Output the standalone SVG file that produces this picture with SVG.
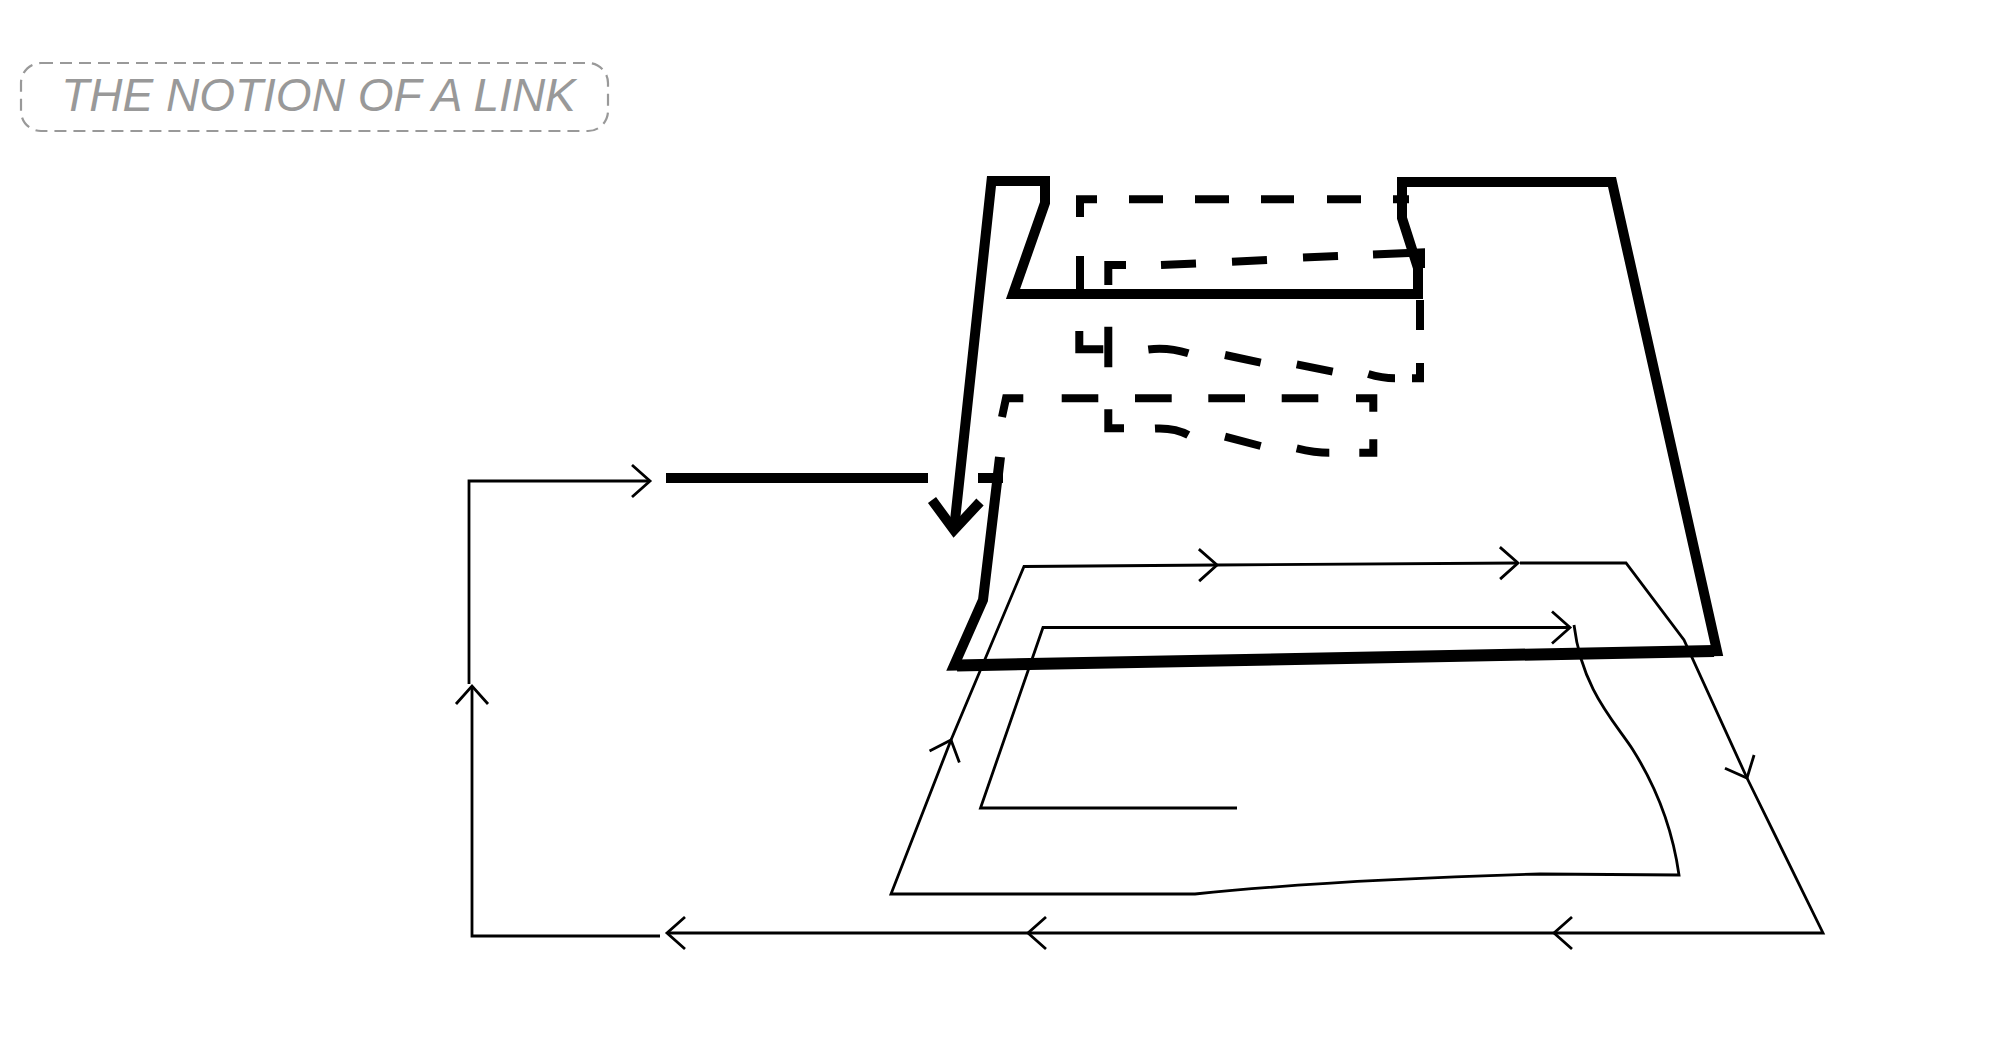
<svg xmlns="http://www.w3.org/2000/svg" width="2000" height="1039" viewBox="0 0 2000 1039">
<defs>
<style>
.thick{fill:none;stroke:#000;stroke-width:10;stroke-linejoin:miter;stroke-miterlimit:10;stroke-linecap:butt}
.dash{fill:none;stroke:#000;stroke-width:8;stroke-linejoin:miter;stroke-linecap:butt}
.thin{fill:none;stroke:#000;stroke-width:2.8;stroke-linejoin:miter}
.arr{marker-end:url(#chev)}
.title-box{fill:none;stroke:#999;stroke-width:2.2;stroke-dasharray:12 7}
.title-text{font-family:"Liberation Sans",Arial,sans-serif;font-style:italic;font-size:46px;fill:#999}
</style>
<marker id="chev" viewBox="0 0 22 36" refX="20" refY="18" markerWidth="22" markerHeight="36" markerUnits="userSpaceOnUse" orient="auto" overflow="visible">
<path d="M2,2 L20,18 L2,34" fill="none" stroke="#000" stroke-width="2.8"/>
</marker>
</defs>
<rect width="2000" height="1039" fill="#fff"/>
<g id="title">
<rect class="title-box" x="21" y="63" width="587" height="68" rx="20"/>
<text class="title-text" x="318.5" y="111" text-anchor="middle">THE NOTION OF A LINK</text>
</g>
<g id="outline">
<path class="thick" d="M1000,457 L983,600 L954,665.5 L1717,651 L1612,182 L1402,182 L1402,218 L1418,268 L1418,294 L1013,294 L1045,203 L1045,181 L991.5,181 L954,530"/>
<path class="thick" style="stroke-width:12" d="M957,665.5 L1714,651"/>
<polyline class="thick" points="932,500 954,530 980,502"/>
<path class="thick" d="M666,478 H928 M978,478 H1003"/>
</g>
<g id="dashed-strand">
<path class="dash" d="M1080,217 V199.3 H1097 M1129,199.3 H1163 M1195,199.3 H1229 M1261,199.3 H1294 M1327,199.3 H1361 M1393,199.3 H1409 M1080,256 V289 M1108.3,285 V265 H1126 M1161,265 L1196,263.5 M1232,261.7 L1267,260 M1303,257.5 L1338,256 M1373,254.5 L1421,252.5 V268 M1420,300 V330 M1420,363 V378.3 H1412 M1079.3,331 V349.3 H1103.3 M1108.3,326.7 V367.3 M1148.3,349.5 Q1168,347 1188.3,353.3 M1225,355 L1260.7,362.7 M1296.7,364.3 L1332.7,371.7 M1368.3,374 Q1382,378.3 1395,378.3 M1002,417 L1006,398.3 H1023.3 M1061.7,398.3 H1098.3 M1135,398.3 H1171.7 M1208.3,398.3 H1245 M1281.7,398.3 H1318.3 M1356,398.3 H1373.3 V411.7 M1108.3,409.3 V428.3 H1124 M1155,428.5 Q1175,427.5 1188.3,435 M1225,436.7 L1260.7,446 M1296.7,448.3 Q1315,452.7 1329.3,452.7 M1359.3,452.7 H1373.3 V439.3"/>
</g>
<g id="connectors">
<path class="thin arr" d="M469,684 V481 H650"/>
<path class="thin arr" d="M660,936 H472 V686"/>
<path class="thin arr" d="M1554,933 H1028"/>
<path class="thin arr" d="M1028,933 H667"/>
<path class="thin arr" d="M1520,563 H1626 L1684,640 L1747,778"/>
<path class="thin arr" d="M1747,778 L1823,933 H1554"/>
<path class="thin arr" d="M951,740 L1024,566.5 L1217,565"/>
<path class="thin arr" d="M1217,565 L1518,563"/>
<path class="thin arr" d="M1574,625 C1582,690 1615,722 1633,750 C1655,785 1672,825 1679,875 L1540,874 Q1330,880 1195,894 L891,894 L951,740"/>
<path class="thin arr" d="M1237,808 H980.5 L1043,627.5 H1570"/>
</g>
</svg>
